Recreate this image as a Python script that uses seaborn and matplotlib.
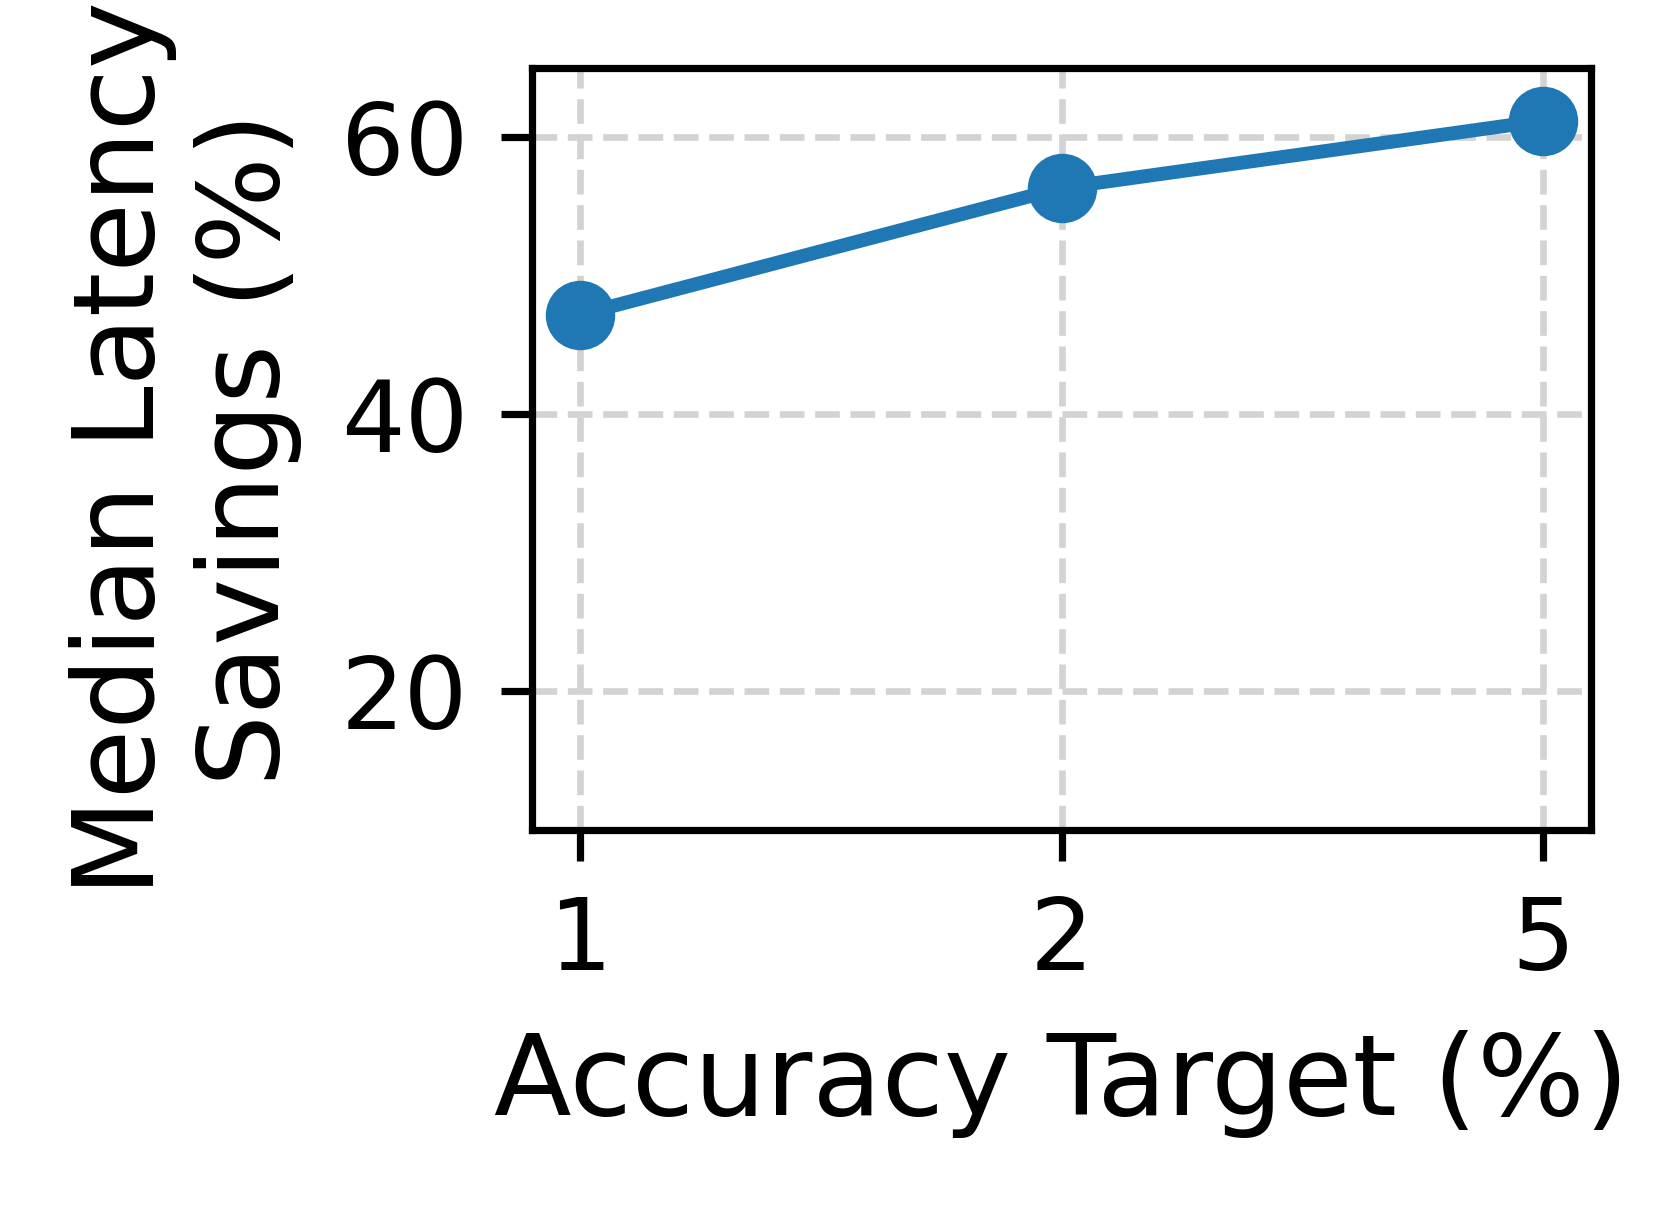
import matplotlib
matplotlib.use("Agg")
import matplotlib.pyplot as plt
import pandas as pd
import seaborn as sns

# values
accuracy_target = ["1", "2", "5"]
latency_savings = [47.2, 56.35, 61.2]

df = pd.DataFrame({"Accuracy Target (%)": accuracy_target,
                   "Savings": latency_savings})

plt.rcParams["font.family"] = "DejaVu Sans"

fig = plt.figure(figsize=(1659 / 400, 1206 / 400), dpi=400)
ax = fig.add_axes([0.3207, 0.3118, 0.959 - 0.3207, 0.9436 - 0.3118])

sns.lineplot(data=df, x="Accuracy Target (%)", y="Savings", ax=ax,
             color="#1f77b4", marker="o", markersize=12.5, linewidth=2.5,
             markeredgewidth=0, zorder=3)

ax.set_xlim(-0.1, 2.1)
ax.set_ylim(10, 65)
ax.set_yticks([20, 40, 60])

ax.grid(True, linestyle="--", color="lightgray", linewidth=1.2)
ax.set_axisbelow(True)

for s in ax.spines.values():
    s.set_linewidth(1.3)
    s.set_color("black")

ax.tick_params(axis="both", labelsize=18, length=5.5, width=1.3, pad=6)
ax.set_xlabel("Accuracy Target (%)", fontsize=20.4, labelpad=7)
ax.set_ylabel("Median Latency\nSavings (%)", fontsize=20.4, labelpad=7)

fig.savefig("out.png", dpi=400)
